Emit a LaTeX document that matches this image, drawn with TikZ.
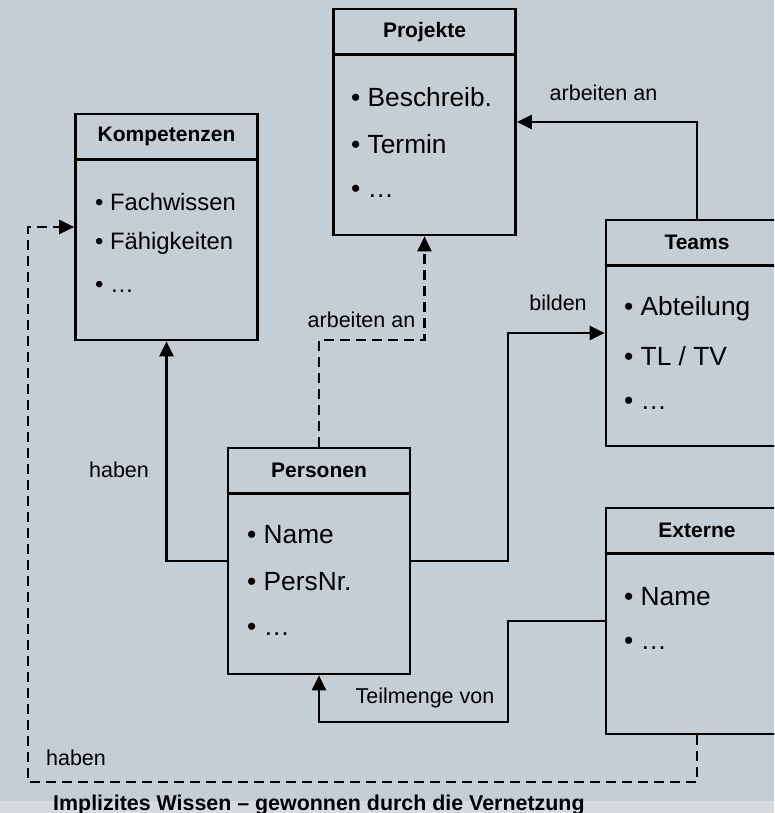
\documentclass[tikz,border=0pt]{standalone}
\usepackage{fontspec}
\setmainfont{Liberation Sans}
\usetikzlibrary{arrows.meta}
\definecolor{bg}{RGB}{197,205,213}
\definecolor{bgl}{RGB}{214,219,224}
\begin{document}
\begin{tikzpicture}[x=1pt,y=-1pt,
  box/.style={draw,line width=2.7pt,minimum width=182pt,minimum height=226pt,inner sep=0pt},
  hdr/.style={inner sep=0pt,font=\fontsize{21}{24}\selectfont\bfseries},
  item/.style={anchor=west,inner sep=0pt,font=\fontsize{26.3}{30}\selectfont},
  itemsm/.style={anchor=west,inner sep=0pt,font=\fontsize{23.8}{28}\selectfont},
  lbl/.style={inner sep=0pt,font=\fontsize{21.5}{24}\selectfont},
  conn/.style={line width=2.4pt,-{Triangle[length=15pt,width=14pt]}},
  dconn/.style={conn,dash pattern=on 10pt off 6pt},
  hline/.style={line width=2.7pt}]
\useasboundingbox (0,0) rectangle (774,813);
\fill[bg] (0,0) rectangle (774,813);
\fill[bgl] (0,801) rectangle (774,813);
\clip (0,0) rectangle (774,813);

% helper coordinates
\coordinate (y340) at (0,340);
\coordinate (x508) at (508,0);
\coordinate (y722) at (0,722);
\coordinate (y782) at (0,782);
\coordinate (x28) at (28,0);
\coordinate (y122) at (0,122);

% boxes
\node[box] (proj) at (424.5,122) {};
\node[box] (komp) at (166.5,227) {};
\node[box] (teams) at (697,333) {};
\node[box] (pers) at (319,561) {};
\node[box] (ext) at (697,621) {};

\foreach \b in {proj,komp,teams,pers,ext}{
  \draw[hline] ([yshift=-47pt]\b.north west) -- ([yshift=-47pt]\b.north east);
}

% headers
\node[hdr] (projh) at ([yshift=-24pt]proj.north) {Projekte};
\node[hdr] (komph) at ([yshift=-24pt]komp.north) {Kompetenzen};
\node[hdr] (teamsh) at ([yshift=-24pt]teams.north) {Teams};
\node[hdr] (persh) at ([yshift=-24pt]pers.north) {Personen};
\node[hdr] (exth) at ([yshift=-24pt]ext.north) {Externe};

% items
\node[item] (p1) at (351,97) {• Beschreib.};
\node[item] (p2) at (351,144) {• Termin};
\node[item] (p3) at (351,191) {• …};

\node[itemsm] (k1) at (95,202) {• Fachwissen};
\node[itemsm] (k2) at (95,243) {• Fähigkeiten};
\node[itemsm] (k3) at (95,287) {• …};

\node[item] (t1) at (624,309) {• Abteilung};
\node[item] (t2) at (624,356) {• TL / TV};
\node[item] (t3) at (624,403) {• …};

\node[item] (n1) at (247,535) {• Name};
\node[item] (n2) at (247,582) {• PersNr.};
\node[item] (n3) at (247,629) {• …};

\node[item] (e1) at (624,597) {• Name};
\node[item] (e2) at (624,643) {• …};

% connectors
\draw[conn] (teams.north) -- (teams.north |- y122) -- (proj.east |- y122);
\draw[dconn] (pers.north) -- (pers.north |- y340) -| (proj.south);
\draw[conn] (pers.west) -| (komp.south);
\draw[conn] (pers.east) -- (pers.east -| x508) |- (teams.west);
\draw[conn] (ext.west) -- (ext.west -| x508) -- (x508 |- y722) -| (pers.south);
\draw[dconn] (ext.south) -- (ext.south |- y782) -- (x28 |- y782) |- (komp.west);

% labels
\node[lbl] (l1) at (603.5,93) {arbeiten an};
\node[lbl] (l2) at (361.5,320) {arbeiten an};
\node[lbl] (l3) at (119,470) {haben};
\node[lbl] (l4) at (558,303) {bilden};
\node[lbl] (l5) at (425,698) {Teilmenge von};
\node[lbl] (l6) at (76,758) {haben};
\node[inner sep=0pt,anchor=base west,font=\fontsize{21.4}{24}\selectfont\bfseries] (title) at (53,810) {Implizites Wissen – gewonnen durch die Vernetzung};
\end{tikzpicture}
\end{document}
